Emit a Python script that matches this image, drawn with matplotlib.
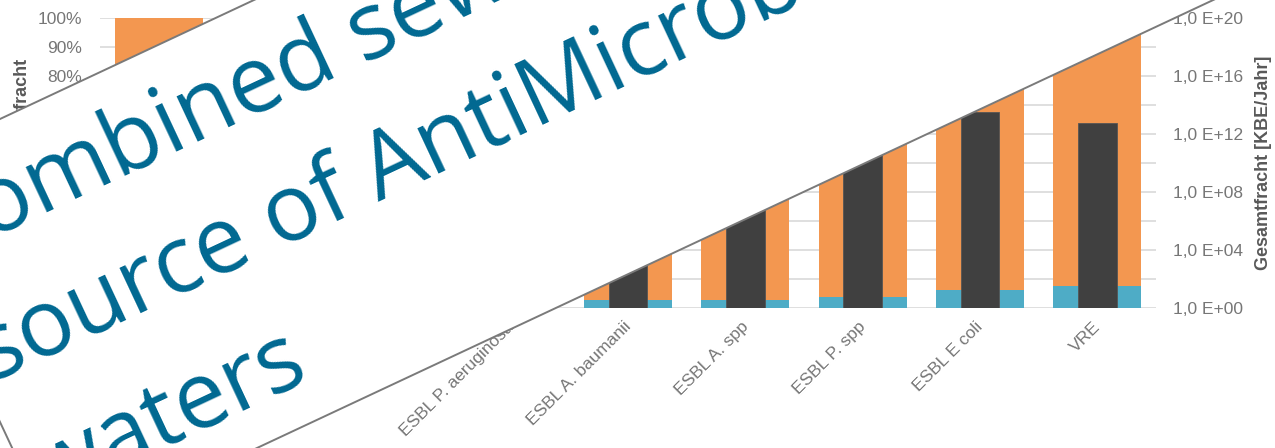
import numpy as np
import matplotlib
matplotlib.use("Agg")
import matplotlib.pyplot as plt
from matplotlib.patches import Polygon
from matplotlib.ticker import FuncFormatter, FixedLocator
import matplotlib.transforms as mtransforms

# --- data -------------------------------------------------------------
categories = ["MRSA", "ESBL K. pneumoniae", "ESBL K. spp", "ESBL P. aeruginosa",
              "ESBL A. baumanii", "ESBL A. spp", "ESBL P. spp", "ESBL E coli", "VRE"]
share_lower = [0.030, 0.030, 0.030, 0.030, 0.029, 0.029, 0.037, 0.061, 0.076]
share_upper = [1.0 - v for v in share_lower]
total_load = [1e11, 1e10, 1e9, 1e10, 1e7, 3e9, 5e11, 3.5e13, 5.5e12]

title_lines = ["Combined sewer overflows as a",
               "source of AntiMicrobial Resistance in surface",
               "waters"]

# --- style ------------------------------------------------------------
ORANGE = "#f39750"
BLUE = "#4eacc6"
DARK = "#404040"
GRID = "#d9d9d9"
TICK = "#767676"
LABEL = "#595959"
TITLE = "#006891"

W, H = 1275, 448
fig = plt.figure(figsize=(W / 100, H / 100), dpi=100)
fig.patch.set_facecolor("white")
plt.rcParams["font.family"] = ["Liberation Sans", "DejaVu Sans"]

left_px, right_px, top_px, base_px = 100, 1156, 18, 308
ax = fig.add_axes([left_px / W, (H - base_px) / H,
                   (right_px - left_px) / W, (base_px - top_px) / H])
x = np.arange(len(categories))

ax.bar(x, share_lower, width=0.75, color=BLUE, zorder=2)
ax.bar(x, share_upper, width=0.75, bottom=share_lower, color=ORANGE, zorder=2)
ax.set_xlim(-0.5, len(categories) - 0.5)
ax.set_ylim(0, 1)
ax.yaxis.set_major_locator(FixedLocator(np.arange(0, 1.001, 0.1)))
ax.yaxis.set_major_formatter(FuncFormatter(lambda v, p: f"{v * 100:.0f}%"))
ax.grid(axis="y", color=GRID, lw=1.2)
ax.set_axisbelow(True)
for s in ax.spines.values():
    s.set_visible(False)
ax.tick_params(axis="y", length=0, pad=13, labelsize=12.5, labelcolor=TICK)
ax.tick_params(axis="x", length=0, pad=8, labelsize=12.5, labelcolor=TICK)
ax.set_xticks(x)
ax.set_xticklabels(categories, rotation=45, ha="right")
shift = mtransforms.ScaledTranslation(6 / 100, 0, fig.dpi_scale_trans)
for lab in ax.get_xticklabels():
    lab.set_transform(lab.get_transform() + shift)
ax.set_ylabel("Anteil an der Gesamtfracht", fontsize=13, fontweight="bold",
              color=LABEL)
ax.yaxis.set_label_coords(-0.065, 0.462)

ax2 = ax.twinx()
ax2.bar(x, total_load, width=0.33, color=DARK, edgecolor="#555555", lw=0.6,
        zorder=3)
ax2.set_yscale("log")
ax2.set_ylim(1, 1e20)
ax2.yaxis.set_major_locator(FixedLocator([10.0 ** k for k in range(0, 21, 4)]))
ax2.yaxis.set_minor_locator(FixedLocator([]))
ax2.yaxis.set_major_formatter(
    FuncFormatter(lambda v, p: f"1,0 E+{int(round(np.log10(v))):02d}"))
for s in ax2.spines.values():
    s.set_visible(False)
ax2.tick_params(axis="y", length=0, pad=12, labelsize=12.5, labelcolor=TICK)
ax2.set_ylabel("Gesamtfracht [KBE/Jahr]", fontsize=13, fontweight="bold",
               color=LABEL, labelpad=9)

# --- tilted title banner ------------------------------------------------
ov = fig.add_axes([0, 0, 1, 1], zorder=10)
ov.set_xlim(0, W)
ov.set_ylim(H, 0)
ov.axis("off")

theta = np.degrees(np.arctan(0.4685))
t = np.radians(theta)
u = np.array([np.cos(t), -np.sin(t)])     # along the banner
n = np.array([np.sin(t), np.cos(t)])      # across the banner (downwards)


def meet(p, d, q, e):
    a = np.column_stack([d, -e])
    s, _ = np.linalg.solve(a, np.asarray(q, float) - np.asarray(p, float))
    return np.asarray(p, float) + s * d


top_pt, bot_pt, side_pt = (0, 119), (0, 568.4), (0, 422)
tl = meet(top_pt, u, side_pt, n)
bl = meet(bot_pt, u, side_pt, n)
corners = [tl, tl + 3000 * u, bl + 3000 * u, bl]
ov.add_patch(Polygon(corners, closed=True, facecolor="white",
                     edgecolor="#7a7a7a", lw=1.4))

start = np.array([-8.0, 383.0])
step = 131.0
for i, line in enumerate(title_lines):
    p = start + (i - 1) * step * n
    ov.text(p[0], p[1], line, rotation=theta, rotation_mode="anchor",
            ha="left", va="baseline", color=TITLE, fontsize=67,
            family=["Open Sans", "DejaVu Sans"])

fig.savefig("out.png", dpi=100, facecolor="white")
